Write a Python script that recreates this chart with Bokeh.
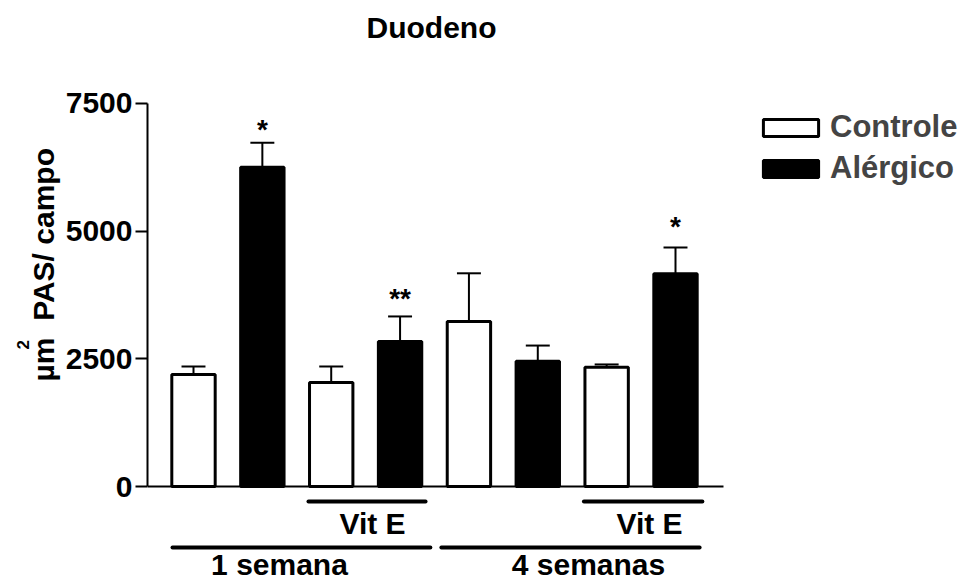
from bokeh.plotting import figure
from bokeh.models import Range1d, FixedTicker, Legend, LegendItem, ColumnDataSource, Title
from bokeh.core.properties import value
from bokeh.embed import file_html
from bokeh.resources import INLINE

# ---------------- data ----------------
positions = [1, 2, 3, 4, 5, 6, 7, 8]
groups = ["Controle", "Alérgico", "Controle", "Alérgico",
          "Controle", "Alérgico", "Controle", "Alérgico"]
means = [2195, 6250, 2035, 2840, 3230, 2455, 2335, 4165]
sems = [155, 480, 315, 490, 945, 305, 55, 515]

star_pos = [2, 4, 8]
star_text = ["*", "**", "*"]
star_y = [6990, 3680, 5090]

vit_label = "Vit E"
vit_spans = [(2.67, 4.37), (6.67, 8.39)]
week_labels = ["1 semana", "4 semanas"]
week_spans = [(0.695, 4.44), (4.60, 8.35)]

y_ticks = [0, 2500, 5000, 7500]

FONT = "Liberation Sans"

# ---------------- geometry helpers (canvas px -> data) ----------------
FR_L, FR_R, FR_T, FR_B = 147, 961, 43, 581
X0, X1 = 0.332, 12.1535
Y0, Y1 = -1860.3, 8674.9


def dx(px):
    return X0 + (px - FR_L) * (X1 - X0) / (FR_R - FR_L)


def dy(py):
    return Y0 + (FR_B - py) * (Y1 - Y0) / (FR_B - FR_T)


p = figure(width=961, height=581, output_backend="svg", toolbar_location=None,
           x_range=Range1d(X0, X1), y_range=Range1d(Y0, Y1),
           x_axis_location=None, min_border_left=147, min_border_right=0,
           min_border_top=43, min_border_bottom=0)
p.outline_line_color = None
p.xgrid.visible = False
p.ygrid.visible = False

# title
p.title.text = "Duodeno"
p.title.align = "left"
p.title.offset = 219
p.title.standoff = 0
p.title.text_font = FONT
p.title.text_font_size = "30px"
p.title.text_font_style = "bold"
p.title.text_color = "black"

# y axis
ax = p.yaxis[0]
ax.ticker = FixedTicker(ticks=y_ticks)
ax.bounds = (0, 7500)
ax.axis_line_width = 2
ax.major_tick_line_width = 2
ax.major_tick_out = 12
ax.major_tick_in = 0
ax.minor_tick_line_color = None
ax.major_label_standoff = 3
ax.major_label_text_font = FONT
ax.major_label_text_font_size = "30px"
ax.major_label_text_font_style = "bold"
ax.major_label_text_color = "black"

# y axis label: "µm² PAS/ campo"
t1 = Title(text="µm\u00a0\u00a0PAS/ campo", align="left", offset=200, standoff=5,
           text_font=FONT, text_font_size="30px", text_font_style="bold", text_color="black")
p.add_layout(t1, "left")
t2 = Title(text="2", align="left", offset=232, standoff=-12,
           text_font=FONT, text_font_size="17px", text_font_style="bold", text_color="black")
p.add_layout(t2, "left")

# x baseline
p.segment(x0=[X0], y0=[0], x1=[8.697], y1=[0], line_color="black", line_width=2)

# bars
renderers = {}
for g, fill in (("Controle", "white"), ("Alérgico", "black")):
    idx = [i for i, gg in enumerate(groups) if gg == g]
    src = ColumnDataSource(dict(x=[positions[i] for i in idx], top=[means[i] for i in idx]))
    renderers[g] = p.vbar(x="x", top="top", width=0.63, bottom=0, source=src,
                          fill_color=fill, line_color="black", line_width=3)

# error bars (upper only)
err_top = [m + s for m, s in zip(means, sems)]
p.segment(x0=positions, y0=means, x1=positions, y1=err_top, line_color="black", line_width=2)
cap = 0.174
p.segment(x0=[x - cap for x in positions], y0=err_top, x1=[x + cap for x in positions], y1=err_top,
          line_color="black", line_width=2)

# significance stars
p.text(x=star_pos, y=star_y, text=star_text, text_align="center", text_baseline="alphabetic",
       text_font=value(FONT), text_font_size="28px", text_font_style="bold", text_color="black")

# group lines and labels
vy = dy(501)
wy = dy(547)
p.segment(x0=[a for a, b in vit_spans], y0=[vy, vy], x1=[b for a, b in vit_spans], y1=[vy, vy],
          line_color="black", line_width=4, line_cap="round")
p.segment(x0=[a for a, b in week_spans], y0=[wy, wy], x1=[b for a, b in week_spans], y1=[wy, wy],
          line_color="black", line_width=4, line_cap="round")
p.text(x=[dx(372), dx(649)], y=[dy(523), dy(523)], text=[vit_label, vit_label],
       text_align="center", text_baseline="alphabetic", text_font=value(FONT),
       text_font_size="30px", text_font_style="bold", text_color="black")
p.text(x=[dx(279), dx(588)], y=[dy(564), dy(564)], text=week_labels,
       text_align="center", text_baseline="alphabetic", text_font=value(FONT),
       text_font_size="30px", text_font_style="bold", text_color="black")

# legend
legend = Legend(items=[LegendItem(label="Controle", renderers=[renderers["Controle"]]),
                       LegendItem(label="Alérgico", renderers=[renderers["Alérgico"]])],
                location=(609, 395), padding=0, margin=0, spacing=5,
                glyph_width=69, glyph_height=21, label_standoff=5,
                border_line_color=None, background_fill_alpha=0,
                label_text_font=FONT, label_text_font_size="31px", label_text_font_style="bold")
p.add_layout(legend)

open("out.html", "w").write(file_html(p, INLINE))
